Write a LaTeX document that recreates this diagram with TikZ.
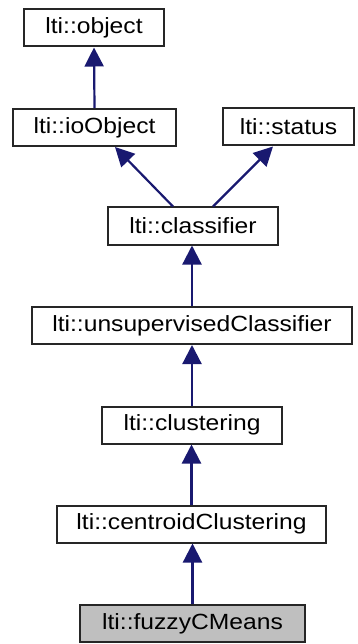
\documentclass[tikz,border=0pt]{standalone}
\usepackage{fontspec}
\setmainfont[FakeStretch=1.12]{Liberation Sans}
\usetikzlibrary{arrows.meta}
\definecolor{edgeblue}{RGB}{25,25,112}
\definecolor{boxgray}{RGB}{191,191,191}
\begin{document}
\begin{tikzpicture}[x=1pt,y=-1pt,
  cls/.style={draw=black!85, line width=2pt, minimum height=37pt,
    inner sep=0pt, font=\fontsize{22}{26}\selectfont, text=black},
  current/.style={cls, fill=boxgray},
  inh/.style={draw=edgeblue, line width=2.2pt,
    -{Triangle[length=19pt,width=19pt]}, color=edgeblue}]
\useasboundingbox (0,0) rectangle (358,644);

% class boxes
\node[cls, minimum width=140pt] (object)       at (94,28)      {lti::object};
\node[cls, minimum width=163pt] (ioObject)     at (94.5,127.5) {lti::ioObject};
\node[cls, minimum width=131pt] (status)       at (288.5,127)  {lti::status};
\node[cls, minimum width=170pt] (classifier)   at (193,226)    {lti::classifier};
\node[cls, minimum width=320pt] (unsupervised) at (192,325.5)  {lti::unsupervisedClassifier};
\node[cls, minimum width=180pt] (clustering)   at (192,425)    {lti::clustering};
\node[cls, minimum width=269pt] (centroid)     at (191.5,524)  {lti::centroidClustering};
\node[current, minimum width=225pt] (fuzzy)    at (192.5,623.5) {lti::fuzzyCMeans};

% inheritance arrows (child -> parent)
\draw[inh] (ioObject.north) -- (object.south);
\draw[inh] ([xshift=-20pt]classifier.north) -- ([xshift=20.5pt]ioObject.south);
\draw[inh] ([xshift=20pt]classifier.north) -- ([xshift=-15.5pt]status.south);
\draw[inh] (unsupervised.north) -- (unsupervised.north |- classifier.south);
\draw[inh] (clustering.north) -- (clustering.north |- unsupervised.south);
\draw[inh] (centroid.north) -- (centroid.north |- clustering.south);
\draw[inh] (fuzzy.north) -- (fuzzy.north |- centroid.south);
\end{tikzpicture}
\end{document}
